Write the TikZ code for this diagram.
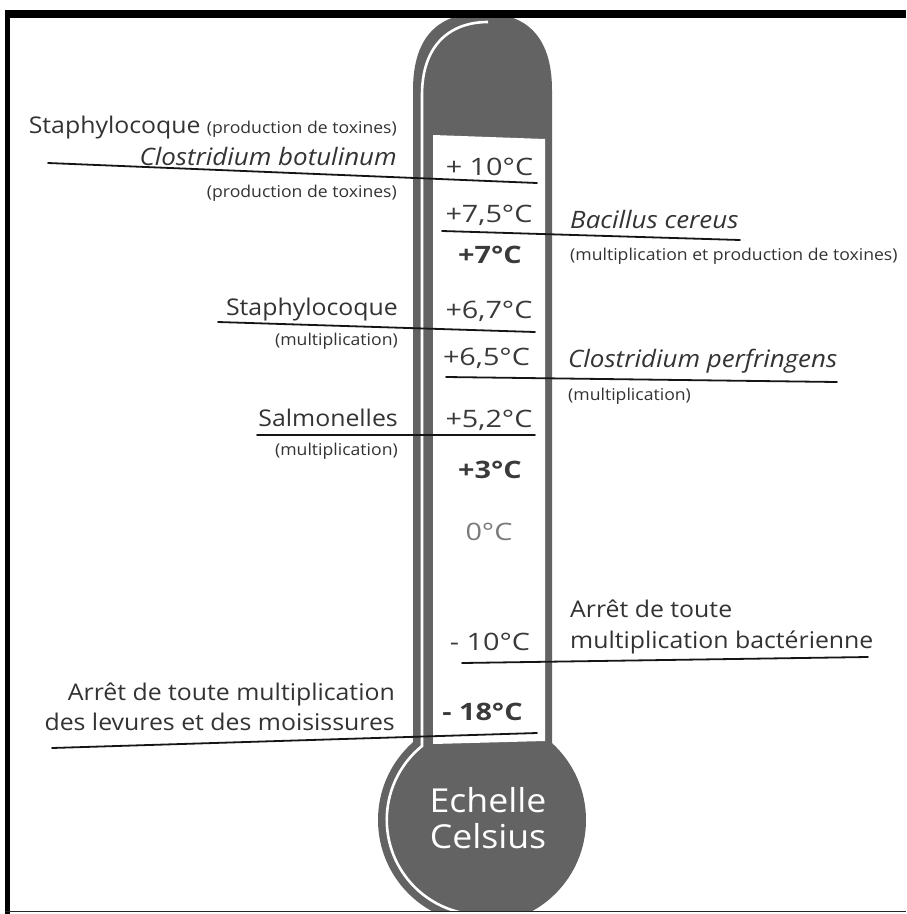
\documentclass[tikz,border=0pt]{standalone}
\usepackage{fontspec}
\setmainfont[FakeStretch=1.08]{Open Sans}
\newfontfamily\tempfont[FakeStretch=1.2]{Open Sans}
\definecolor{thermo}{HTML}{636363}
\definecolor{txt}{HTML}{333333}
\definecolor{tmp}{HTML}{3A3A3A}
\definecolor{tmplight}{HTML}{7A7A7A}
\definecolor{ink}{HTML}{151515}
\begin{document}
\begin{tikzpicture}[x=1pt,y=-1pt,
  lbl/.style={inner sep=0pt, text=txt, font=\fontsize{23}{27}\selectfont},
  lbli/.style={inner sep=0pt, text=txt, font=\fontsize{24}{28}\selectfont\itshape},
  sm/.style={inner sep=0pt, text=txt, font=\fontsize{16.3}{19}\selectfont},
  temp/.style={inner sep=0pt, anchor=base, text=tmp, font=\tempfont\fontsize{24}{28}\selectfont},
  tempb/.style={temp, font=\tempfont\fontsize{24}{28}\selectfont\bfseries},
  ul/.style={line width=1.8pt, draw=ink, line cap=round},
  bulbtxt/.style={inner sep=0pt, anchor=base, text=white, font=\fontsize{33}{37}\selectfont}]
\useasboundingbox (0,0) rectangle (906,914);
\fill[white] (0,0) rectangle (906,914);
% thermometer
\begin{scope}
  \clip (10,18) rectangle (906,911);
  \fill[thermo] (413,745) -- (413,90) .. controls (413,35) and (440,13) .. (482.5,13)
     .. controls (525,13) and (552,35) .. (552,90) -- (552,745) -- cycle;
  \fill[thermo] (482,820) circle (104);
  \draw[white, line width=2.6pt] (488,22) .. controls (450,22) and (422,45) .. (422,95)
     -- (422,746) arc[start angle=231, end angle=80, radius=95];
\end{scope}
\fill[white] (433,135) -- (545,139) -- (545,741) -- (433,744) -- cycle;
% frame
\fill[black] (5,10) rectangle (906,18);
\fill[black] (5,10) rectangle (10,914);
\fill[black!85] (5,910.5) rectangle (906,912);
% connectors
\coordinate (a1) at (48,163);  \coordinate (b1) at (537,183);
\coordinate (a2) at (442,231); \coordinate (b2) at (740,240);
\coordinate (a3) at (218,322); \coordinate (b3) at (535,332);
\coordinate (a4) at (446,377); \coordinate (b4) at (837,382);
\coordinate (a5) at (257,435); \coordinate (b5) at (535,435);
\coordinate (a6) at (462,663); \coordinate (b6) at (868,657);
\coordinate (a7) at (52,748);  \coordinate (b7) at (537,733);
\foreach \i in {1,...,7} {\draw[ul] (a\i) -- (b\i);}
% left labels
\node[lbl, anchor=base east] (staph1) at (397,133) {Staphylocoque {\fontsize{16.3}{19}\selectfont (production de toxines)}};
\node[lbli, anchor=base east] (clbot) at (397,165) {Clostridium botulinum};
\node[sm, anchor=base east] (clbotp) at (397,197) {(production de toxines)};
\node[lbl, anchor=base east] (staph2) at (398,315) {Staphylocoque};
\node[sm, anchor=base east] (staph2p) at (398,345) {(multiplication)};
\node[lbl, anchor=base east] (salm) at (398,426) {Salmonelles};
\node[sm, anchor=base east] (salmp) at (398,455) {(multiplication)};
\node[lbl, anchor=base east] (lev1) at (395,700) {Arrêt de toute multiplication};
\node[lbl, anchor=base east] (lev2) at (395,730) {des levures et des moisissures};
% right labels
\node[lbli, anchor=base west] (bac) at (570,228) {Bacillus cereus};
\node[sm, anchor=base west] (bacp) at (570,260) {(multiplication et production de toxines)};
\node[lbli, anchor=base west] (perf) at (568,367) {Clostridium perfringens};
\node[sm, anchor=base west] (perfp) at (568,400) {(multiplication)};
\node[lbl, anchor=base west] (bact1) at (570,617) {Arrêt de toute};
\node[lbl, anchor=base west] (bact2) at (570,648) {multiplication bactérienne};
% temperatures
\node[temp] (t1) at (489.5,175) {+ 10°C};
\node[temp] (t2) at (489,222) {+7,5°C};
\node[tempb] (t3) at (490,263) {+7°C};
\node[temp] (t4) at (489,318) {+6,7°C};
\node[temp] (t5) at (486.5,365) {+6,5°C};
\node[temp] (t6) at (489,427) {+5,2°C};
\node[tempb] (t7) at (490,478) {+3°C};
\node[temp, text=tmplight] (t8) at (489,540) {0°C};
\node[temp] (t9) at (490,650) {- 10°C};
\node[tempb] (t10) at (482.5,720) {- 18°C};
% bulb text
\node[bulbtxt] (ech) at (488,812) {Echelle};
\node[bulbtxt] (cel) at (488,848) {Celsius};
\end{tikzpicture}
\end{document}
